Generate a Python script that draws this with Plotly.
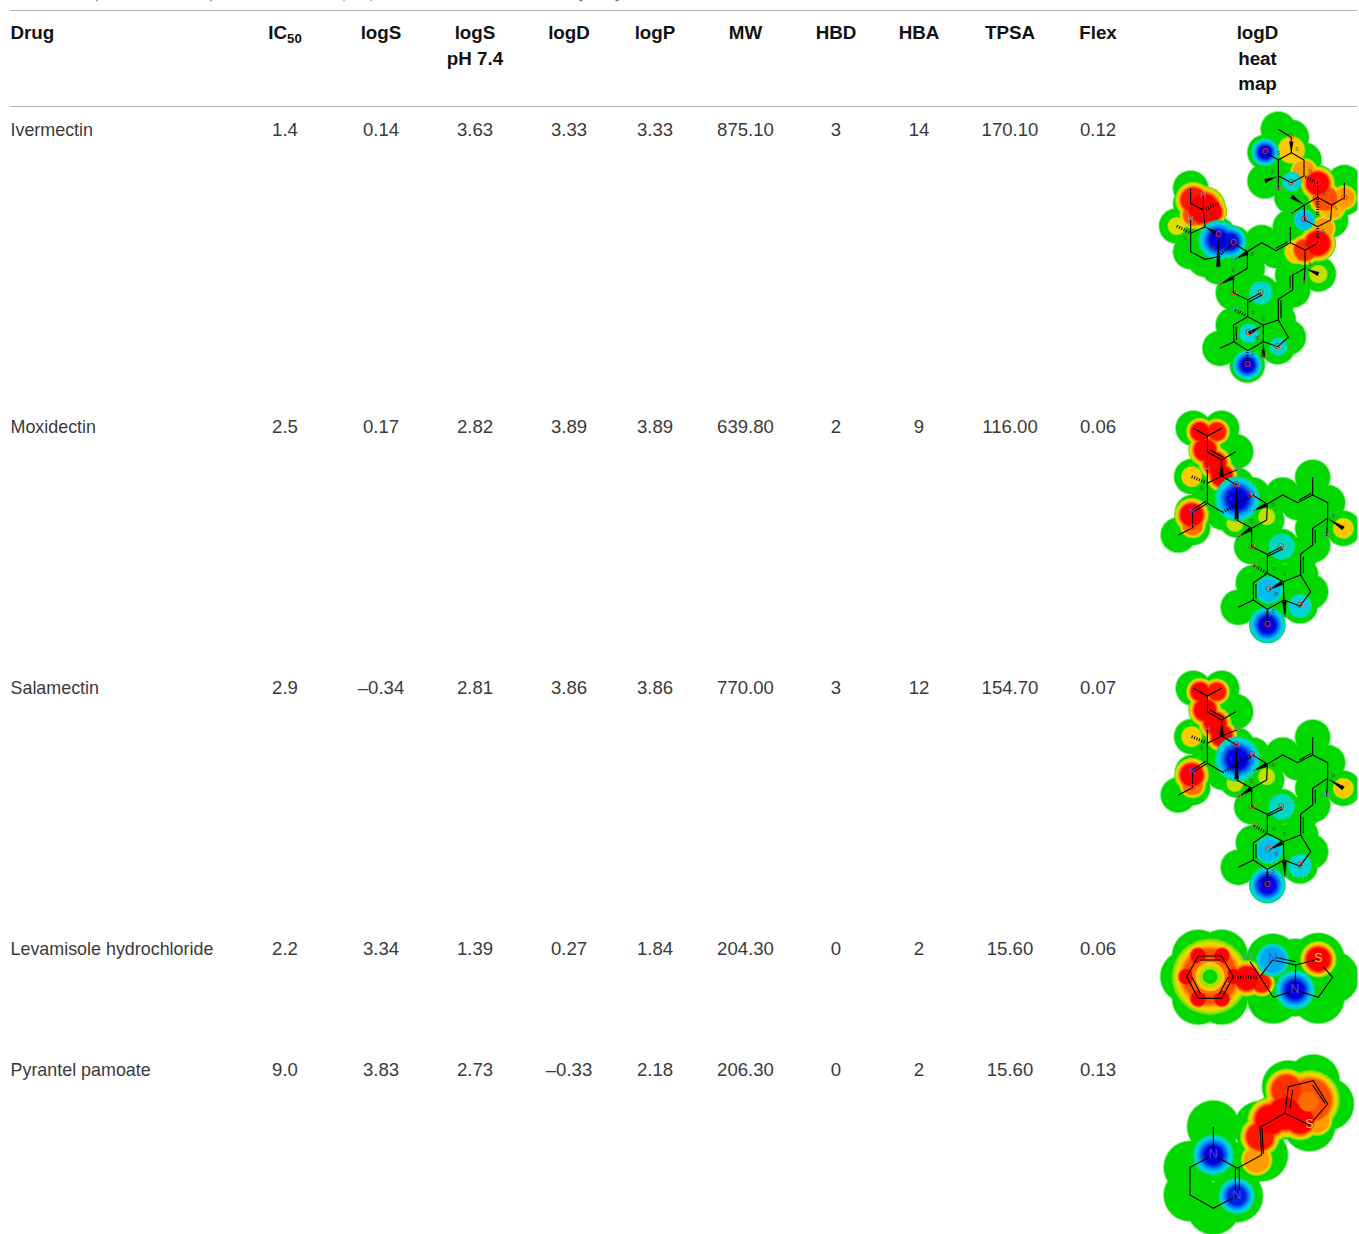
import plotly.graph_objects as go

# ---------- table data ----------
drugs = ["Ivermectin", "Moxidectin", "Salamectin", "Levamisole hydrochloride", "Pyrantel pamoate"]
ic50 = ["1.4", "2.5", "2.9", "2.2", "9.0"]
logs = ["0.14", "0.17", "–0.34", "3.34", "3.83"]
logs74 = ["3.63", "2.82", "2.81", "1.39", "2.73"]
logd = ["3.33", "3.89", "3.86", "0.27", "–0.33"]
logp = ["3.33", "3.89", "3.86", "1.84", "2.18"]
mw = ["875.10", "639.80", "770.00", "204.30", "206.30"]
hbd = ["3", "2", "3", "0", "0"]
hba = ["14", "9", "12", "2", "2"]
tpsa = ["170.10", "116.00", "154.70", "15.60", "15.60"]
flex = ["0.12", "0.06", "0.07", "0.06", "0.13"]
row_y = [130, 427, 688, 949, 1070]

columns = [ic50, logs, logs74, logd, logp, mw, hbd, hba, tpsa, flex]
column_x = [285, 381, 475, 569, 655, 745.5, 836, 919, 1010, 1098]
header_1 = ["IC<sub>50</sub>", "logS", "logS", "logD", "logP", "MW", "HBD", "HBA", "TPSA", "Flex", "logD"]
header_x = column_x + [1257.5]

# descender fragments of the cropped caption above the table
caption_x = [97, 211, 344, 371, 581, 617]
caption_w = [1.4, 1.4, 1, 1, 3, 3]

# ---------- molecule sketches (3x crop pixels) ----------
IVER_ORIGIN = (1150, 100)
IVER_BONDS = [
    [(385,88),(424,112),(424,158),(462,180),(462,228),(424,248),(385,228),(385,180),(424,158)],
    [(345,157),(385,180)], [(385,270),(385,228)],
    [(503,248),(503,292),(545,315),(542,360),(503,380),(463,360),(463,315),(503,292)],
    [(545,315),(583,293),(583,248)], [(425,340),(463,315)],
    [(503,430),(465,450),(465,505),(462,547)],
    [(465,505),(428,525),(428,570),(385,598),(385,660)], [(420,527),(420,565)], [(393,600),(393,655)],
    [(465,450),(421,428),(421,382)], [(421,428),(378,452),(335,428),(292,455),(292,505),(250,530)],
    [(378,445),(412,426)],
    [(292,455),(250,430)], [(250,530),(250,578),(293,600),(333,578)], [(297,606),(337,584)],
    [(293,600),(293,650),(340,675),(385,660),(415,712),(383,740),(340,725),(340,675)],
    [(340,725),(293,752),(252,725),(250,675),(293,650)], [(260,720),(258,680)],
    [(252,725),(210,745)],
    [(205,470),(165,478),(122,455),(122,400),(165,380)],
    [(122,400),(122,360)], [(165,380),(160,330),(122,310),(122,265)], [(160,330),(160,288)],
]
IVER_WEDGES = [
    [(424,125),(424,155)], [(345,243),(380,230)], [(425,290),(460,313)], [(505,522),(470,507)],
    [(292,458),(255,478)], [(250,532),(210,553)], [(297,700),(335,678)], [(340,770),(340,730)],
    [(205,500),(205,415)], [(198,400),(165,380)],
]
IVER_HASHES = [
    [(503,250),(465,230)], [(503,296),(503,345)], [(80,378),(120,398)], [(205,310),(165,328)],
    [(255,630),(290,648)], [(503,385),(503,425)], [(292,757),(292,790)], [(250,430),(205,470)],
]
IVER_HOT = [
    (160,325,68,1),(130,300,55,.9),(185,335,46,1),(130,345,42,.8),(80,378,28,.3),(505,522,28,.25),
    (424,150,42,.42),(462,215,42,.55),(503,250,52,1),(525,295,50,.75),(583,293,38,.55),(545,320,44,.5),
    (520,385,38,.55),(503,430,55,1),(465,450,46,.85),(440,455,38,.45),
]
IVER_COLD = [
    (205,420,60,1),(240,425,50,.9),(345,157,42,1),(292,795,45,1),(425,245,30,.26),(463,360,32,.34),
    (297,700,30,.26),(333,578,36,.18),(385,740,28,.15),
]
IVER_ATOMS = [(385,88),(424,112),(424,158),(462,180),(462,228),(424,248),(385,228),(385,180),(345,157),
              (345,243),(503,248),(503,292),(545,315),(542,360),(503,380),(463,360),(463,315),(583,293),(583,248),
              (425,290),(503,430),(465,450),(465,505),(505,522),(428,525),(428,570),(385,598),(385,660),
              (421,428),(421,382),(378,452),(335,428),(292,455),(292,505),(250,530),(250,430),(250,578),(293,600),
              (333,578),(293,650),(340,675),(415,712),(383,740),(340,725),(293,752),(252,725),(250,675),(210,745),
              (292,795),(205,470),(165,478),(122,455),(122,400),(165,380),(205,405),(160,330),(122,310),(122,265),
              (80,378),(205,500)]
IVER_GREEN_R = 52
IVER_LABELS = [
    ("O",424,112),("O",345,157),("O",424,248),("O",503,248),("O",583,293),("O",463,360),("O",503,430),
    ("O",250,430),("O",205,405),("O",250,578),("O",333,578),("O",297,700),("O",383,740),("O",292,795),
    ("H",385,270),("H",425,340),("H",462,547),("H",255,478),("H",210,553),("H",255,630),("H",342,770),
    ("H",122,360),("H",160,288),
]
IVER_STEREO = [("S",385,160),("S",440,150),("R",480,215),("S",368,215),("S",520,285),("S",558,325),("S",465,295),
               ("S",520,395),("S",465,435),("S",480,495),("R",308,465),("S",250,512),("R",310,640),("S",340,658),
               ("R",322,716),("S",308,760),("R",190,445),("S",105,415),("R",145,370),("S",178,345)]

MOXI_ORIGIN = (1150, 400)
SALA_ORIGIN = (1150, 660)
AVER_BONDS = [
    [(130,85),(172,108),(215,85)], [(172,108),(172,155),(215,180),(257,155)], [(180,150),(220,172)],
    [(215,228),(172,250),(172,210)], [(215,228),(260,210)], [(215,228),(260,255)],
    [(172,250),(172,310),(128,337),(128,383),(85,405)], [(168,304),(126,330)],
    [(172,310),(218,337)], [(260,360),(305,385),(350,360),(352,312),(308,285)],
    [(352,312),(398,285),(443,308),(488,285),(488,232)], [(448,300),(484,280)],
    [(488,285),(533,308),(533,355),(530,408)], [(533,355),(488,385),(488,435),(452,462),(452,525)],
    [(496,390),(496,430)], [(460,470),(460,520)],
    [(305,385),(305,440),(352,463),(395,440)], [(352,469),(399,446)],
    [(352,463),(352,520),(400,545),(452,525),(482,575),(450,618),(402,600),(400,545)],
    [(402,600),(352,628),(310,600),(310,548),(352,520)], [(318,595),(318,553)],
    [(310,600),(265,622)], [(352,628),(352,675)],
]
AVER_WEDGES = [
    [(215,228),(215,180)], [(260,358),(260,262)], [(580,385),(537,358)], [(302,387),(265,410)],
    [(396,548),(357,570)], [(403,604),(405,650)], [(350,314),(310,332)],
]
AVER_HASHES = [[(125,230),(168,248)], [(218,337),(305,287)], [(312,497),(348,518)], [(352,635),(352,668)]]
AVER_HOT = [
    (150,95,42,1),(200,95,40,.9),(165,150,50,1),(195,190,50,1),(215,228,48,1),(125,230,32,.42),
    (125,345,52,1),(128,375,40,.7),(580,385,32,.42),(350,350,26,.26),(255,370,26,.22),
]
AVER_COLD = [
    (262,297,68,1),(262,297,48,1),(352,675,55,1),(357,570,42,.36),(450,618,36,.22),(395,440,40,.2),(300,290,30,.15),
]
AVER_ATOMS = [(130,85),(172,108),(215,85),(172,155),(215,180),(257,155),(215,228),(172,250),(260,255),(125,230),
              (172,310),(128,337),(128,383),(85,405),(218,337),(260,312),(260,360),(305,385),(350,360),(352,312),
              (308,285),(398,285),(443,308),(488,285),(488,232),(533,308),(533,355),(580,385),(488,385),(488,435),
              (452,462),(452,525),(305,440),(352,463),(395,440),(352,520),(400,545),(482,575),(450,618),(402,600),
              (352,628),(310,600),(310,548),(265,622),(352,675)]
AVER_GREEN_R = 52
AVER_LABELS = [
    ("O",260,255),("O",308,285),("O",128,383),("N",128,337),("O",305,440),("O",395,440),("O",357,570),
    ("O",450,618),("O",352,675),("H",172,210),("H",260,210),("H",310,332),("H",265,410),("H",530,408),
    ("H",312,497),("H",405,650),
]
AVER_STEREO = [("S",198,218),("S",155,265),("R",242,300),("R",370,318),("S",305,365),("R",550,350),
               ("R",372,510),("S",403,525),("R",380,585),("S",370,636)]

LEVA_ORIGIN = (1150, 920)
LEVA_BONDS = [
    [(110,170),(145,108),(215,108),(250,170),(215,235),(145,235),(110,170)],
    [(150,120),(210,120)], [(235,170),(208,222)], [(152,222),(125,170)],
    [(330,170),(300,125)], [(330,170),(368,120)], [(368,120),(437,135)], [(375,112),(437,125)],
    [(437,135),(505,118)], [(437,135),(435,210),(370,232),(330,170)],
    [(435,210),(505,232),(548,172),(520,140)],
]
LEVA_WEDGES = []
LEVA_HASHES = [[(255,172),(325,172)]]
LEVA_HOT = [
    (110,170,35,1),(145,108,35,1),(215,108,35,1),(250,170,35,1),(215,235,35,1),(145,235,35,1),
    (180,170,115,.75),(290,175,55,1),(335,190,40,.9),(505,118,55,1),
]
LEVA_COLD = [(435,210,60,1),(435,205,45,1),(368,120,50,.45)]
LEVA_HOLES = [(180,170,55,5)]
LEVA_ATOMS = [(110,170),(145,108),(215,108),(250,170),(215,235),(145,235),(330,170),(368,120),(437,135),
              (505,118),(435,210),(370,232),(505,232),(548,172)]
LEVA_GREEN_R = 78
LEVA_LABELS = [("H",293,110),("N",368,118),("S",505,118),("N",435,210)]
LEVA_STEREO = [("S",312,200)]

PYRA_BONDS = [
    [(190,705),(120,742),(120,825),(190,865),(260,828)], [(190,705),(262,745)], [(256,745),(256,828)], [(268,745),(268,828)],
    [(190,705),(190,620)], [(262,745),(335,705),(330,622),(405,580)], [(340,702),(336,625)],
    [(405,580),(415,500),(490,482),(533,552),(478,615),(405,580)], [(420,565),(428,510)], [(488,495),(525,550)],
]
PYRA_HOT = [
    (330,650,60,.9),(360,600,68,1),(405,580,75,1),(450,600,62,1),(480,540,90,.8),(410,510,65,.85),
    (320,720,48,.55),(500,600,48,.55),
]
PYRA_COLD = [(190,705,62,1),(190,705,45,1),(260,828,55,.85)]
PYRA_HOLES = [(475,545,30,1)]
PYRA_ATOMS = [(190,705),(120,742),(120,825),(190,865),(260,828),(262,745),(190,620),(335,705),(330,622),
              (405,580),(415,500),(490,482),(533,552),(478,615)]
PYRA_GREEN_R = 78
PYRA_LABELS = [("N",190,705),("N",260,828),("S",478,615)]

GREEN = "#00d800"
EDGE = "#86ec86"
HOT_ANCHORS = ["#6cdc00", "#a8e000", "#dce000", "#ffc800", "#ff9c00", "#ff6c00", "#ff3000", "#ff0000"]
COLD_ANCHORS = ["#00d880", "#00d8c0", "#00d0e8", "#00a8f0", "#0080f0", "#0050e8", "#0020e0", "#0000e0"]
HOLE_RAMP = ["#ff6c00", "#ffc800", "#a8e000", "#00d800", "#00d800"]
LABEL_COLORS = {"O": "#ff2020", "N": "#4848f0", "S": "#e8d040", "H": "#8c8c8c"}


def refine(anchors):
    # halfway shades between neighbouring colours, so the bands read as a soft gradient
    out = []
    for a, b in zip(anchors, anchors[1:]):
        ca = [int(a[k:k + 2], 16) for k in (1, 3, 5)]
        cb = [int(b[k:k + 2], 16) for k in (1, 3, 5)]
        out.append(a)
        out.append("#%02x%02x%02x" % tuple((p + q) // 2 for p, q in zip(ca, cb)))
    out.append(anchors[-1])
    return out


HOT_RAMP = refine(HOT_ANCHORS)
COLD_RAMP = refine(COLD_ANCHORS)

fig = go.Figure()


def spot_layer(xs, ys, sizes, color):
    if xs:
        fig.add_trace(go.Scatter(x=xs, y=ys, mode="markers", hoverinfo="skip",
                                 marker=dict(size=sizes, color=color, opacity=1, line=dict(width=0))))


def polyline_trace(paths, origin, width, dash="solid"):
    xs, ys = [], []
    for path in paths:
        for px, py in path:
            xs.append(origin[0] + px / 3)
            ys.append(origin[1] + py / 3)
        xs.append(None)
        ys.append(None)
    if xs:
        fig.add_trace(go.Scatter(x=xs, y=ys, mode="lines", hoverinfo="skip",
                                 line=dict(color="#000000", width=width, dash=dash)))


def wedge_trace(wedges, origin):
    # wide end at the first point, tip at the second
    xs, ys = [], []
    for (ax, ay), (bx, by) in wedges:
        dx, dy = bx - ax, by - ay
        length = (dx * dx + dy * dy) ** 0.5
        nx, ny = -dy / length * 6, dx / length * 6
        for px, py in ((ax + nx, ay + ny), (ax - nx, ay - ny), (bx, by), (ax + nx, ay + ny)):
            xs.append(origin[0] + px / 3)
            ys.append(origin[1] + py / 3)
        xs.append(None)
        ys.append(None)
    if xs:
        fig.add_trace(go.Scatter(x=xs, y=ys, mode="lines", fill="toself", fillcolor="#000000", hoverinfo="skip",
                                 line=dict(color="#000000", width=0.3)))


def label_trace(labels, origin, size, colors):
    if labels:
        fig.add_trace(go.Scatter(
            x=[origin[0] + l[1] / 3 for l in labels], y=[origin[1] + l[2] / 3 for l in labels],
            text=[l[0] for l in labels], mode="text", hoverinfo="skip", textposition="middle center",
            textfont=dict(family="Liberation Sans", size=size, color=colors)))


def molecule(origin, bonds, wedges, hashes, atoms, green_r, hot, cold, holes, labels, stereo, label_size):
    ax = [origin[0] + a / 3 for a, _ in atoms]
    ay = [origin[1] + b / 3 for _, b in atoms]
    spot_layer(ax, ay, [2 * green_r / 3 + 2] * len(ax), EDGE)
    spot_layer(ax, ay, [2 * green_r / 3] * len(ax), GREEN)
    for ramp, spots, shrink in ((HOT_RAMP, hot, 0.38), (COLD_RAMP, cold, 0.58)):
        n = len(ramp)
        for i, color in enumerate(ramp):
            chosen = [s for s in spots if i < s[3] * n]
            frac = 1 - shrink * i / (n - 1)
            spot_layer([origin[0] + s[0] / 3 for s in chosen], [origin[1] + s[1] / 3 for s in chosen],
                       [2 * s[2] * frac / 3 for s in chosen], color)
    for hx, hy, hr, depth in holes:
        for i in range(depth):
            spot_layer([origin[0] + hx / 3], [origin[1] + hy / 3],
                       [2 * hr * (1 - i / 5) / 3], HOLE_RAMP[i])
    polyline_trace(bonds, origin, 1.1)
    polyline_trace(hashes, origin, 3, "1px,1.6px")
    wedge_trace(wedges, origin)
    label_trace(stereo, origin, 5, "#4a4a4a")
    label_trace(labels, origin, label_size, [LABEL_COLORS[l[0]] for l in labels])


molecule(IVER_ORIGIN, IVER_BONDS, IVER_WEDGES, IVER_HASHES, IVER_ATOMS, IVER_GREEN_R,
         IVER_HOT, IVER_COLD, [], IVER_LABELS, IVER_STEREO, 8.5)
molecule(MOXI_ORIGIN, AVER_BONDS, AVER_WEDGES, AVER_HASHES, AVER_ATOMS, AVER_GREEN_R,
         AVER_HOT, AVER_COLD, [], AVER_LABELS, AVER_STEREO, 8.5)
molecule(SALA_ORIGIN, AVER_BONDS, AVER_WEDGES, AVER_HASHES, AVER_ATOMS, AVER_GREEN_R,
         AVER_HOT, AVER_COLD, [], AVER_LABELS, AVER_STEREO, 8.5)
molecule(LEVA_ORIGIN, LEVA_BONDS, LEVA_WEDGES, LEVA_HASHES, LEVA_ATOMS, LEVA_GREEN_R,
         LEVA_HOT, LEVA_COLD, LEVA_HOLES, LEVA_LABELS, LEVA_STEREO, 12.5)
molecule(LEVA_ORIGIN, PYRA_BONDS, [], [], PYRA_ATOMS, PYRA_GREEN_R,
         PYRA_HOT, PYRA_COLD, PYRA_HOLES, PYRA_LABELS, [], 12.5)

NAME = dict(family="Liberation Sans", size=17.9, color="#3a3a3a")
BODY = dict(family="Liberation Sans", size=18.6, color="#3a3a3a")
HEAD = dict(family="Liberation Sans", size=18.8, color="#111111")


def text_trace(xs, ys, texts, font, pos):
    fig.add_trace(go.Scatter(x=xs, y=ys, text=texts, mode="text", textposition=pos, textfont=font,
                             hoverinfo="skip", cliponaxis=False))


text_y = [y + 1.6 for y in row_y]
text_trace([10.5] * len(drugs), text_y, drugs, NAME, "middle right")
for xc, values in zip(column_x, columns):
    text_trace([xc] * len(values), text_y, values, BODY, "middle center")

text_trace([10.5], [34.8], ["<b>Drug</b>"], HEAD, "middle right")
text_trace(header_x, [34.8] * len(header_x), [f"<b>{h}</b>" for h in header_1], HEAD, "middle center")
text_trace([475, 1257.5], [60, 60], ["<b>pH 7.4</b>", "<b>heat</b>"], HEAD, "middle center")
text_trace([1257.5], [85], ["<b>map</b>"], HEAD, "middle center")

for cx, cw in zip(caption_x, caption_w):
    fig.add_trace(go.Scatter(x=[cx, cx], y=[0, 1.2], mode="lines", hoverinfo="skip",
                             line=dict(color="#777777", width=cw)))

RULE = dict(color="#b4b4b4", width=1)
fig.update_layout(
    width=1359, height=1234, margin=dict(l=0, r=0, t=0, b=0), showlegend=False,
    paper_bgcolor="#ffffff", plot_bgcolor="#ffffff",
    xaxis=dict(range=[0, 1359], visible=False, fixedrange=True),
    yaxis=dict(range=[1234, 0], visible=False, fixedrange=True),
    shapes=[
        dict(type="line", xref="x", yref="y", x0=10, x1=1357, y0=10.5, y1=10.5, line=RULE, layer="below"),
        dict(type="line", xref="x", yref="y", x0=10, x1=1357, y0=106.5, y1=106.5, line=RULE, layer="below"),
        dict(type="rect", xref="x", yref="y", x0=1357.5, x1=1359, y0=107, y1=1234,
             fillcolor="#ffffff", line=dict(width=0), layer="above"),
    ],
)

fig.write_html("out.html", config={"displayModeBar": False},
               post_script="document.body.style.margin='0';window.dispatchEvent(new Event('resize'));")
